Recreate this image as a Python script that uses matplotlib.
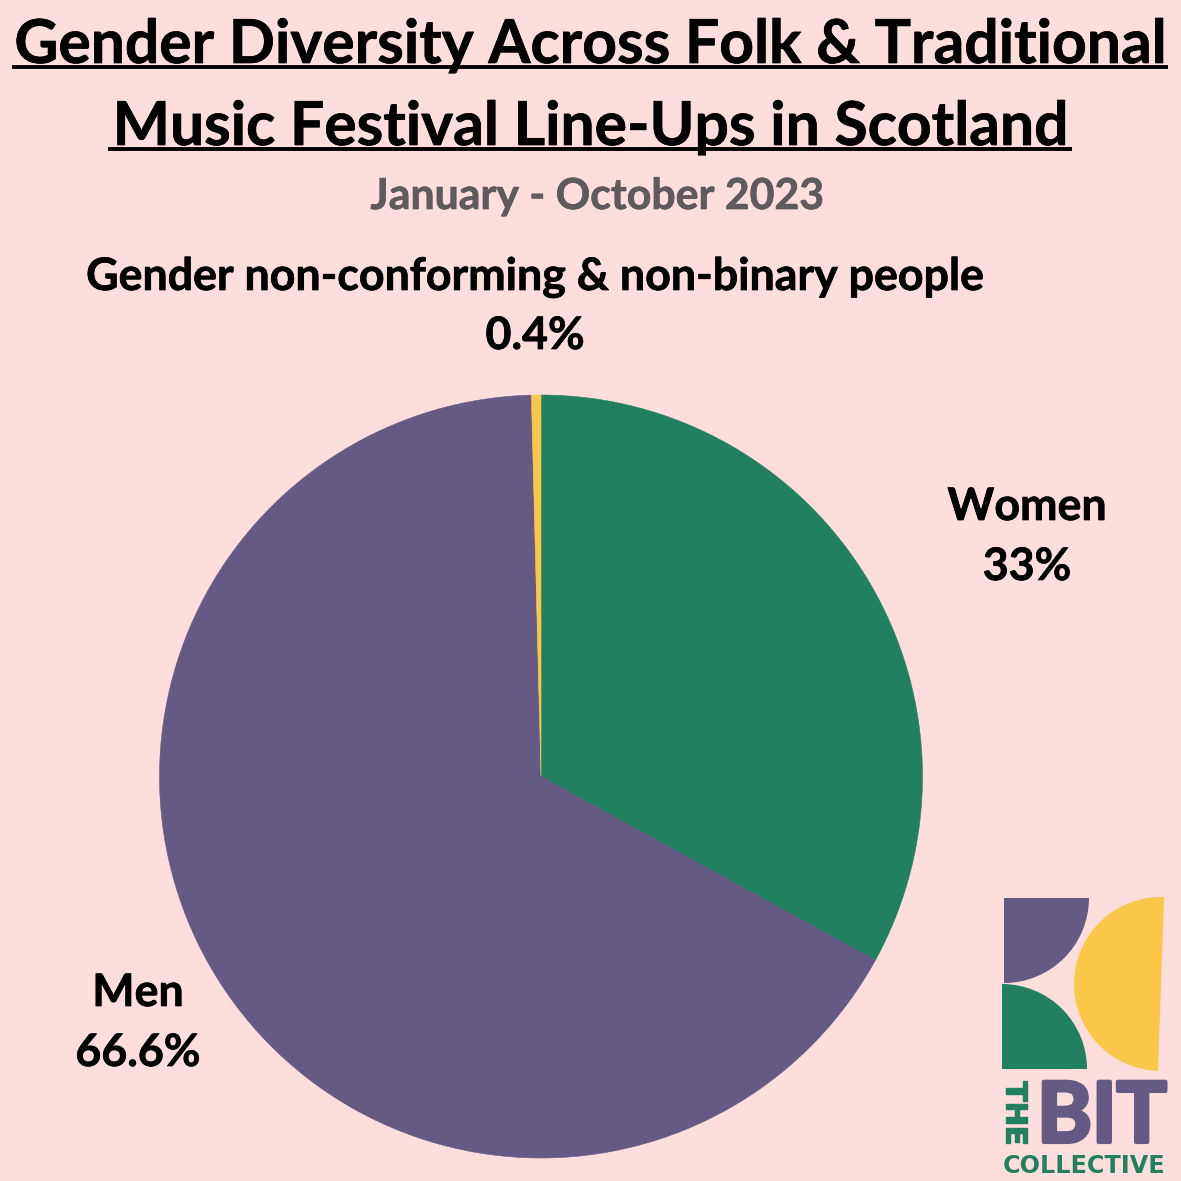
import matplotlib
matplotlib.use("Agg")
import matplotlib.pyplot as plt
import matplotlib.patheffects as pe
from matplotlib.patches import Wedge

# ── Data ──────────────────────────────────────────────────────────────────────
groups = ["Women", "Men", "Gender non-conforming & non-binary people"]
shares = [33, 66.6, 0.4]
share_labels = ["33%", "66.6%", "0.4%"]

C = {
    "bg":     "#FDDEDD",
    "green":  "#21805F",
    "purple": "#655A84",
    "yellow": "#FBC748",
    "text":   "#000000",
    "sub":    "#5E5A5E",
}

W, H, DPI = 1181, 1181, 100
plt.rcParams["font.family"] = ["Lato", "DejaVu Sans"]

fig = plt.figure(figsize=(W/DPI, H/DPI), dpi=DPI, facecolor=C["bg"])
ax = fig.add_axes([0, 0, 1, 1])
ax.set_xlim(0, W); ax.set_ylim(H, 0)
ax.set_aspect("equal")
ax.axis("off")

# fake a heavier weight than the font has
def heavy(w, col):
    return [pe.withStroke(linewidth=w, foreground=col)]

# pie, clockwise from just right of 12 o'clock
pie_ax = fig.add_axes([(541-381.5)/W, 1-(776.5+381.5)/H, 763/W, 763/H])
wedges, _ = pie_ax.pie(shares, colors=[C["green"], C["purple"], C["yellow"]],
                       startangle=90, counterclock=False, radius=1.0)
# hide the hairline seam between slices
for w in wedges:
    w.set_edgecolor(w.get_facecolor())
    w.set_linewidth(0.4)
pie_ax.set_xlim(-1, 1); pie_ax.set_ylim(-1, 1)
pie_ax.set_aspect("equal")

# title
def title_line(x, y, s, x0, x1):
    ax.text(x, y, s, fontsize=43.6, fontweight="bold", color=C["text"],
            ha="center", va="baseline", path_effects=heavy(0.5, C["text"]))
    ax.plot([x0, x1], [y+4, y+4], color=C["text"], lw=2.8, solid_capstyle="butt")

title_line(590, 63, "Gender Diversity Across Folk & Traditional", 12, 1168)
title_line(590, 145, "Music Festival Line-Ups in Scotland", 108, 1072)
ax.text(597, 209, "January - October 2023", fontsize=30.8, fontweight="bold",
        color=C["sub"], ha="center", va="baseline", path_effects=heavy(0.5, C["sub"]))

# labels
def label(x, y1, y2, name, val):
    for y, s in [(y1, name), (y2, val)]:
        ax.text(x, y, s, fontsize=32.2, fontweight="bold", color=C["text"],
                ha="center", va="baseline", path_effects=heavy(0.5, C["text"]))

label(535, 290, 349, groups[2], share_labels[2])
label(1027, 520, 580, groups[0], share_labels[0])
label(138, 1006, 1066, groups[1], share_labels[1])

# logo
ax.add_patch(Wedge((1004, 898), 85, 0, 90, fc=C["purple"], lw=0))
ax.add_patch(Wedge((1002, 1069), 85, 270, 360, fc=C["green"], lw=0))
ax.add_patch(Wedge((1161, 984), 87, 92, 272, fc=C["yellow"], lw=0))
ax.text(1014, 1113, "THE", fontsize=21, fontweight="bold", family="DejaVu Sans", color=C["green"],
        rotation=-90, ha="center", va="center", path_effects=heavy(1.0, C["green"]))
ax.text(1102, 1142, "BIT", fontsize=60, fontweight="bold", color=C["purple"],
        ha="center", va="baseline", path_effects=heavy(3.0, C["purple"]))
ax.text(1084, 1173, "COLLECTIVE", fontsize=17.2, fontweight="bold", family="DejaVu Sans", color=C["green"],
        ha="center", va="baseline")

fig.savefig("out.png", dpi=DPI, facecolor=C["bg"])
